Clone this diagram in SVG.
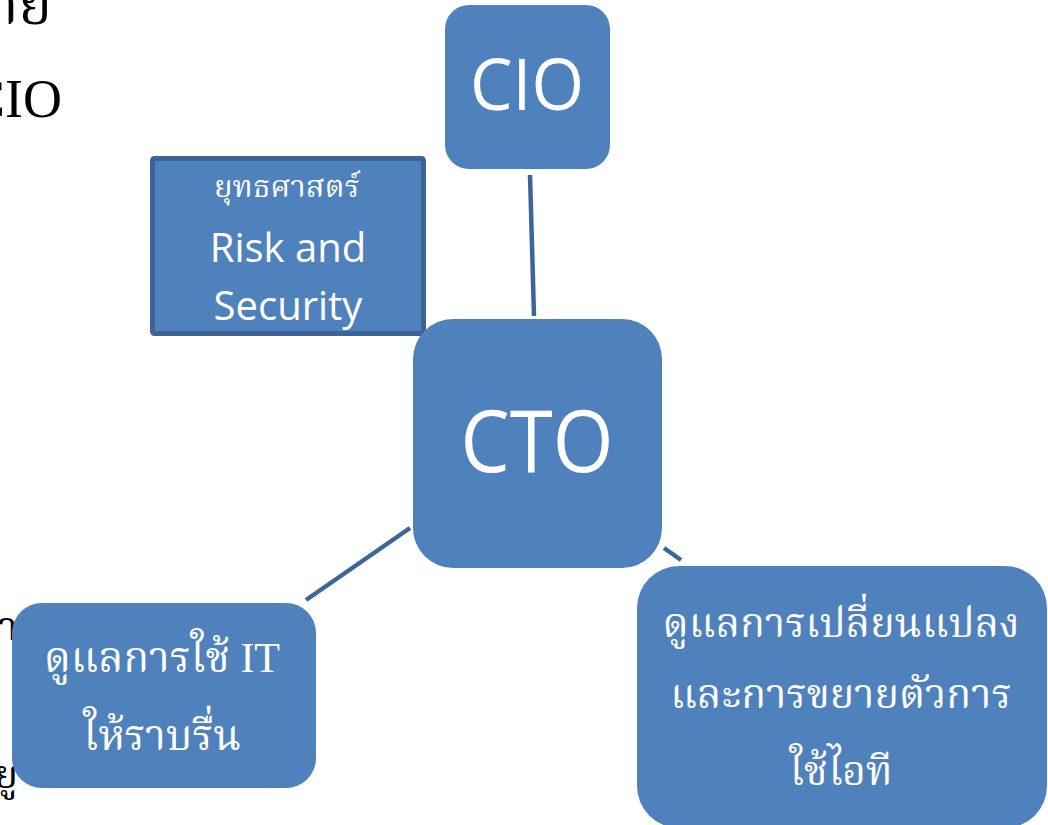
<svg xmlns="http://www.w3.org/2000/svg" width="1048" height="825" viewBox="0 0 1048 825">
<style>
.node{fill:#4F81BD;}
.bg{font-family:"Liberation Serif","Noto Serif Thai","Noto Sans Thai",serif;fill:#000;}
.lat{font-family:"Open Sans","Noto Sans",sans-serif;fill:#fff;text-anchor:middle;}
.th{font-family:"Liberation Serif","Noto Serif Thai","Noto Sans Thai",serif;fill:#fff;text-anchor:middle;}
.conn{stroke:#3D6698;stroke-width:4.5;fill:none;}
</style>
<rect width="1048" height="825" fill="#fff"/>
<g id="background-text">
<text class="bg" x="52" y="24" font-size="56" text-anchor="end">าย</text>
<text class="bg" x="62" y="117" font-size="54" text-anchor="end">CIO</text>
<text class="bg" x="18" y="640" font-size="40" text-anchor="end">า</text>
<text class="bg" x="18" y="788" font-size="40" text-anchor="end">ยู</text>
</g>
<g id="connectors">
<line class="conn" x1="530" y1="175" x2="534" y2="316"/>
<line class="conn" x1="410" y1="528" x2="306" y2="600"/>
<line class="conn" x1="664" y1="548" x2="681" y2="560"/>
</g>
<g id="cio">
<rect class="node" x="445" y="5" width="165" height="164" rx="24"/>
<text class="lat" x="527" y="110" font-size="72" textLength="114" lengthAdjust="spacingAndGlyphs">CIO</text>
</g>
<g id="risk">
<rect x="152.5" y="158.5" width="271" height="175" fill="#4F81BD" stroke="#3C6496" stroke-width="5" rx="2"/>
<text class="th" x="287" y="197" font-size="31" font-family="Noto Sans Thai, Noto Sans, sans-serif">ยุทธศาสตร์</text>
<text class="lat" x="288" y="262" font-size="40">Risk and</text>
<text class="lat" x="288" y="320" font-size="40">Security</text>
</g>
<g id="cto">
<rect class="node" x="413" y="319" width="249" height="249" rx="40"/>
<text class="lat" x="537" y="472" font-size="86" textLength="153" lengthAdjust="spacingAndGlyphs">CTO</text>
</g>
<g id="it-smooth">
<rect class="node" x="12" y="603" width="304" height="185" rx="30"/>
<text class="th" x="162" y="672" font-size="42">ดูแลการใช้ IT</text>
<text class="th" x="162" y="750" font-size="42">ให้ราบรื่น</text>
</g>
<g id="it-change">
<rect class="node" x="637" y="566" width="410" height="262" rx="42"/>
<text class="th" x="841" y="637" font-size="41">ดูแลการเปลี่ยนแปลง</text>
<text class="th" x="841" y="708" font-size="41">และการขยายตัวการ</text>
<text class="th" x="841" y="785" font-size="41">ใช้ไอที</text>
</g>
</svg>
